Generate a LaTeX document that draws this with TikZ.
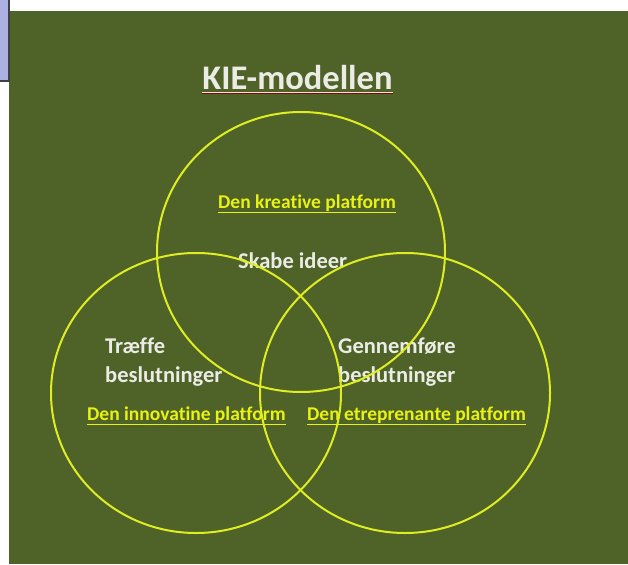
\documentclass[tikz,border=0pt]{standalone}
\usepackage{fontspec}
\setmainfont{Carlito}[Ligatures={NoCommon}]
\definecolor{kiegreen}{RGB}{79,98,40}
\definecolor{kieyellow}{RGB}{232,242,20}
\definecolor{kiering}{RGB}{222,238,34}
\definecolor{kiewhite}{RGB}{236,236,230}
\definecolor{kieblue}{RGB}{172,176,226}
\begin{document}
\begin{tikzpicture}[x=1pt,y=-1pt,
  ring/.style={draw=kiering,line width=2pt},
  headline/.style={inner sep=0pt,anchor=base,text=kiewhite,font=\fontsize{34.5}{40}\selectfont\bfseries},
  task/.style={inner sep=0pt,anchor=base west,align=left,text=kiewhite,font=\fontsize{22.5}{29}\selectfont\bfseries},
  platform/.style={inner sep=0pt,anchor=base west,text=kieyellow,font=\fontsize{19.5}{23}\selectfont\bfseries}]
\useasboundingbox (0,0) rectangle (628,564);
\fill[kiegreen] (9,11) rectangle (628,564);
\fill[kieblue] (0,0) rectangle (9,81);
\draw[black!75,line width=1.2pt] (9,0) -- (9,81) -- (0,81);

% titel
\node[headline] (title) at (297.5,90) {KIE-modellen};
\draw[kiewhite,line width=1pt] ([yshift=-2.5pt]title.base west) -- ([yshift=-2.5pt]title.base east);
\draw[red!60!black,line width=1pt] ([yshift=-4pt]title.base west) -- ([yshift=-4pt]title.base east);

% tekster
\node[platform] (kre) at (218,208) {Den kreative platform};
\node[task] (ide) at (238,268) {Skabe ideer};
\node[task] (tra) at (105,382) {Træffe\\beslutninger};
\node[task] (gen) at (338,382) {Gennemføre\\beslutninger};
\node[platform] (inn) at (87,420) {Den innovatine platform};
\node[platform] (ent) at (307,420) {Den etreprenante platform};
\foreach \p in {kre,inn,ent}
  \draw[kieyellow,line width=1pt] ([yshift=-4pt]\p.base west) -- ([yshift=-4pt]\p.base east);

% cirkler
\draw[ring] (301,252) ellipse [x radius=144,y radius=140];
\draw[ring] (196,393) ellipse [x radius=145,y radius=140];
\draw[ring] (405,393) ellipse [x radius=145,y radius=140];
\end{tikzpicture}
\end{document}
